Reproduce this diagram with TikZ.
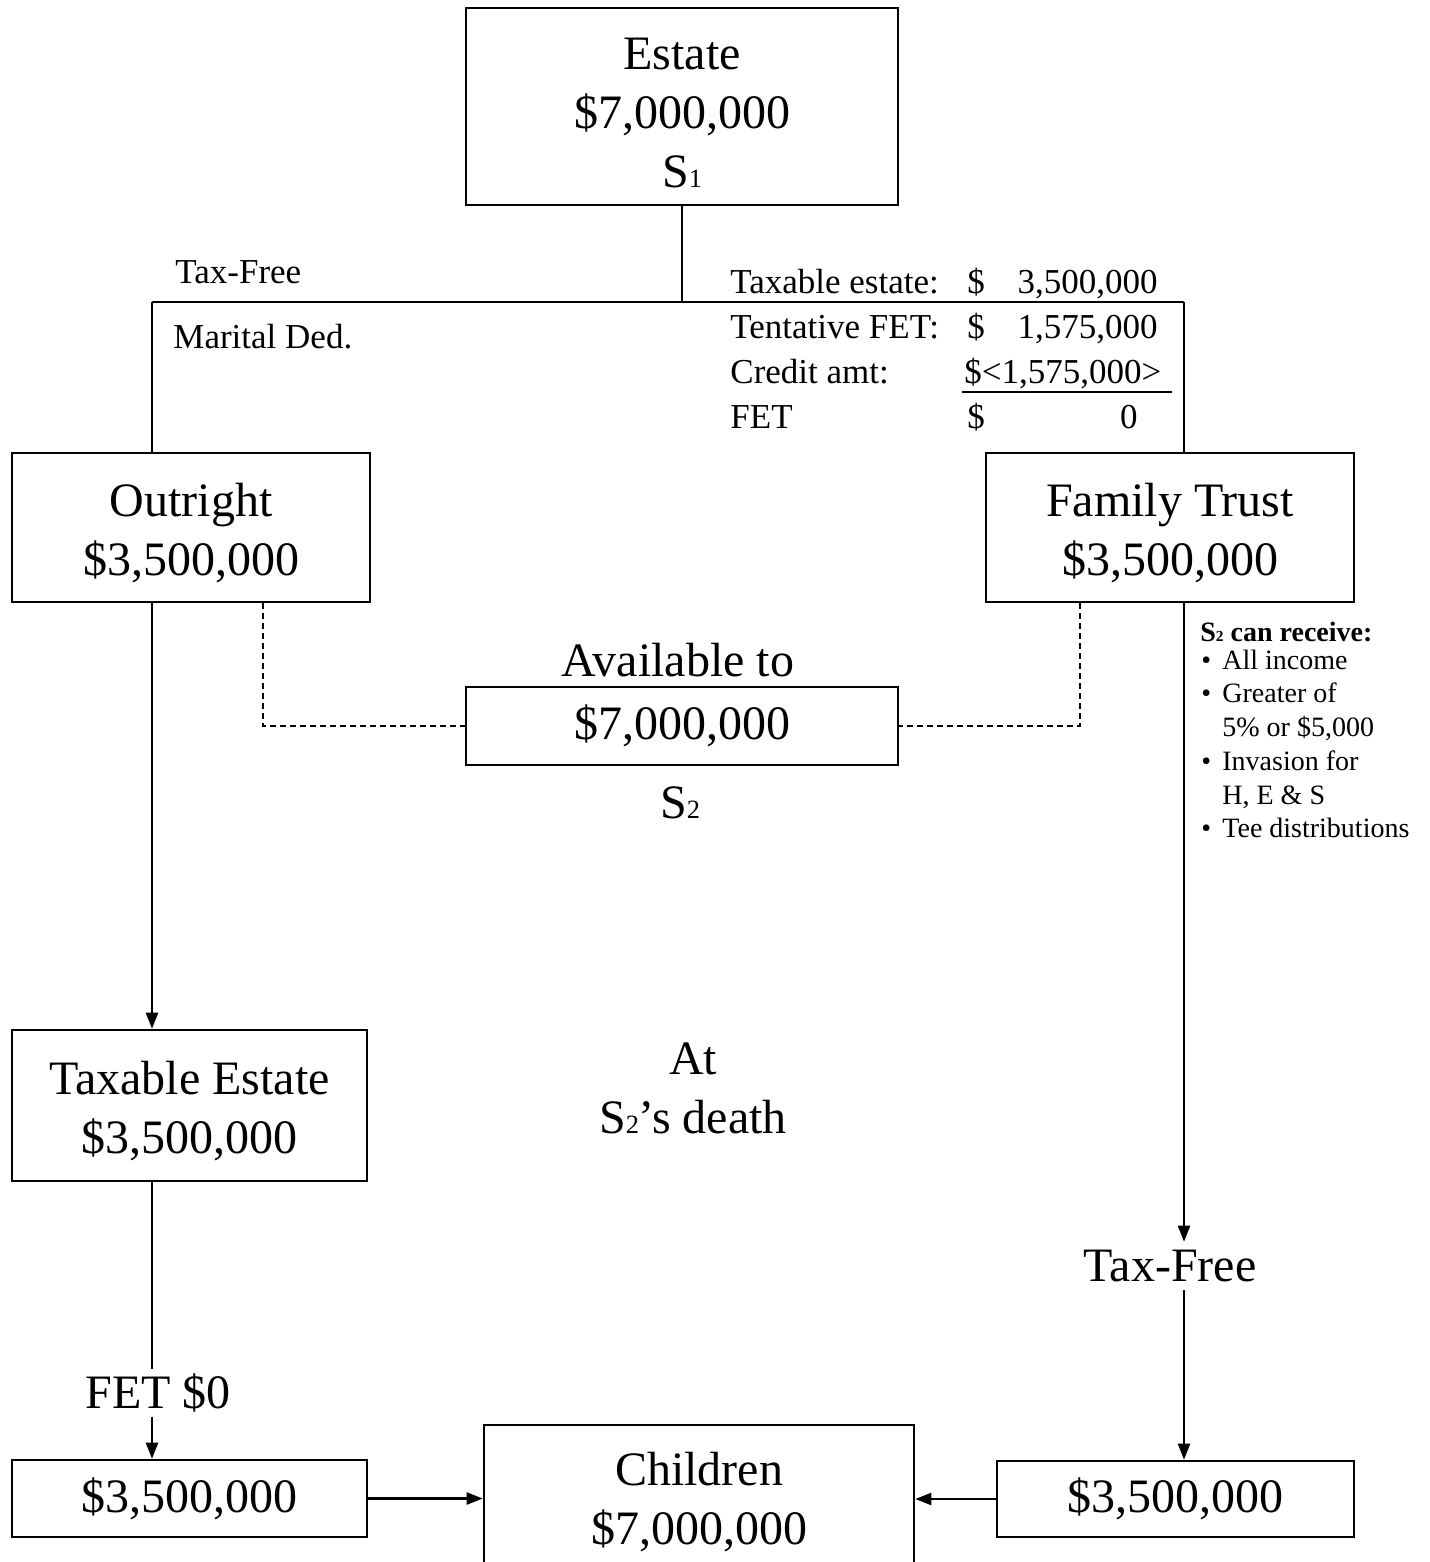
\documentclass[tikz,border=0pt]{standalone}
\usepackage{fontspec}
\setmainfont{Liberation Serif}
\usepackage{graphicx}
\usetikzlibrary{arrows.meta}
\newcommand\subd[1]{\scalebox{0.55}{#1}}
\newcommand\bigf{\fontsize{24}{29.5}\selectfont}
\newcommand\medf{\fontsize{17.5}{22}\selectfont}
\newcommand\smallf{\fontsize{14}{17}\selectfont}
\newcommand\lowr{\rule{0pt}{22.5pt}}
\begin{document}
\begin{tikzpicture}[x=0.5pt,y=-0.5pt,
  box/.style={draw,line width=1.3pt,inner sep=0pt,align=center,font=\bigf},
  bigt/.style={inner sep=2pt,align=center,font=\bigf},
  medt/.style={inner sep=0pt,font=\medf},
  smt/.style={inner sep=0pt,font=\smallf,anchor=base west},
  conn/.style={line width=1.1pt},
  arr/.style={line width=1.1pt,-{Triangle[length=8pt,width=6pt]}},
  dline/.style={line width=1.1pt,dash pattern=on 3pt off 2pt}]
\useasboundingbox (0,0) rectangle (1429,1562);

% boxes
\node[box,minimum width=216pt,minimum height=98.5pt] (estate) at (682,106.5) {\lowr Estate\\\$7,000,000\\S\subd{1}};
\node[box,minimum width=179pt,minimum height=74.5pt] (outright) at (191,527.5) {\lowr Outright\\\$3,500,000};
\node[box,minimum width=184pt,minimum height=74.5pt] (trust) at (1170,527.5) {\lowr Family Trust\\\$3,500,000};
\node[box,minimum width=216pt,minimum height=39pt] (avail) at (682,726) {\$7,000,000};
\node[box,minimum width=177.5pt,minimum height=75.5pt] (taxest) at (189.5,1105.5) {\lowr Taxable Estate\\\$3,500,000};
\node[box,minimum width=177.5pt,minimum height=38.5pt] (leftbot) at (189.5,1498.5) {\$3,500,000};
\node[box,minimum width=215pt,minimum height=77.5pt] (children) at (699,1502.5) {Children\\\$7,000,000};
\node[box,minimum width=178.5pt,minimum height=38pt] (rightbot) at (1175.5,1499) {\$3,500,000};

% free labels
\node[bigt] (availlbl) at (678,660) {Available to};
\node[bigt] (s2lbl) at (680,803) {S\subd{2}};
\node[bigt] (death) at (693,1088) {At\\S\subd{2}’s death};
\node[bigt,inner sep=4pt] (taxfree) at (1170,1266) {Tax-Free};
\node[bigt] (fet) at (158,1393) {FET \$0};

\node[medt,anchor=base west] (tf1) at (175,283) {Tax-Free};
\node[medt,anchor=base west] (md) at (173,348) {Marital Ded.};

% table
\node[medt,anchor=base west] (t1a) at (730,293) {Taxable estate:};
\node[medt,anchor=base west] (t1b) at (967,293) {\$};
\node[medt,anchor=base east] (t1c) at (1158,293) {3,500,000};
\node[medt,anchor=base west] (t2a) at (730,338) {Tentative FET:};
\node[medt,anchor=base west] (t2b) at (967,338) {\$};
\node[medt,anchor=base east] (t2c) at (1158,338) {1,575,000};
\node[medt,anchor=base west] (t3a) at (730,383) {Credit amt:};
\node[medt,anchor=base west] (t3c) at (964,383) {\$<1,575,000>};
\node[medt,anchor=base west] (t4a) at (730,428) {FET};
\node[medt,anchor=base west] (t4b) at (967,428) {\$};
\node[medt,anchor=base east] (t4c) at (1138,428) {0};
\draw[line width=1.1pt] (962,392) -- (1172,392);

% list
\node[smt] (l0) at (1200,641) {\textbf{S\subd{2} can receive:}};
\node[smt] (b1) at (1201,669) {\textbullet};
\node[smt] (l1) at (1222,669) {All income};
\node[smt] (b2) at (1201,702) {\textbullet};
\node[smt] (l2) at (1222,702) {Greater of};
\node[smt] (l2b) at (1222,736) {5\% or \$5,000};
\node[smt] (b3) at (1201,770) {\textbullet};
\node[smt] (l3) at (1222,770) {Invasion for};
\node[smt] (l3b) at (1222,804) {H, E \& S};
\node[smt] (b4) at (1201,837) {\textbullet};
\node[smt] (l4) at (1222,837) {Tee distributions};

% junction coordinates
\coordinate (j) at (682,302);
\coordinate (jl) at (152,302);
\coordinate (jr) at (1184,302);
\coordinate (dl) at (263,0);
\coordinate (dr) at (1080,0);

% connectors
\draw[conn] (estate.south) -- (j);
\draw[conn] (jl) -- (jr);
\draw[conn] (jl) -- (jl |- outright.north);
\draw[conn] (jr) -- (jr |- trust.north);
\draw[arr] (jl |- outright.south) -- (jl |- taxest.north);
\draw[conn] (jl |- taxest.south) -- (jl |- fet.north);
\draw[arr] (jl |- fet.south) -- (jl |- leftbot.north);
\draw[arr] (jr |- trust.south) -- (jr |- taxfree.north);
\draw[arr] (jr |- taxfree.south) -- (jr |- rightbot.north);
\draw[arr] (leftbot.east) -- (leftbot.east -| children.west);
\draw[arr] (rightbot.west) -- (rightbot.west -| children.east);
\draw[dline] (outright.south -| dl) |- (avail.west);
\draw[dline] (trust.south -| dr) |- (avail.east);
\end{tikzpicture}
\end{document}
